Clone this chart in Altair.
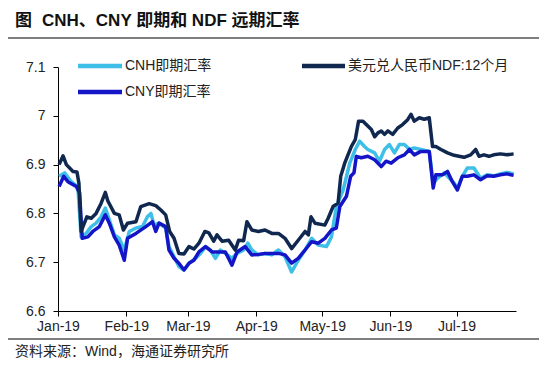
import altair as alt
import pandas as pd

# days since 2019-01-01 and values
cnh_day = [0.5, 3.0, 6.0, 9.0, 10.5, 12.8, 15.1, 17.3, 19.6, 21.5, 23.3, 25.6, 27.8, 30.1, 32.4, 35.4, 38.4, 40.6, 42.2, 43.6,
           45.9, 48.9, 50.4, 52.7, 54.9, 57.2, 59.5, 62.5, 64.7, 67.0, 69.2, 71.5, 73.7, 76.0, 79.0, 81.3, 84.3, 86.2, 88.0, 91.0,
           94.0, 97.1, 100.1, 103.1, 106.1, 109.1, 112.2, 115.2, 118.2, 121.9, 124.2, 126.4, 129.5, 132.5, 135.0, 137.0, 139.2, 140.7, 143.8, 146.0,
           148.3, 150.5, 152.8, 155.0, 157.3, 159.6, 161.8, 164.8, 168.6, 170.4, 172.3, 175.4, 176.9, 179.9, 181.4, 183.6, 185.9, 188.9, 191.9, 194.9,
           197.9, 200.9, 203.9, 206.9]
cnh_val = [6.876, 6.883, 6.865, 6.855, 6.752, 6.759, 6.773, 6.780, 6.793, 6.811, 6.787, 6.756, 6.749, 6.725, 6.763, 6.770, 6.773, 6.793, 6.800, 6.776,
           6.780, 6.770, 6.732, 6.711, 6.691, 6.684, 6.698, 6.708, 6.718, 6.732, 6.725, 6.708, 6.725, 6.718, 6.708, 6.718, 6.725, 6.739, 6.725, 6.715,
           6.718, 6.715, 6.725, 6.711, 6.680, 6.704, 6.725, 6.749, 6.735, 6.732, 6.752, 6.814, 6.848, 6.903, 6.931, 6.948, 6.937, 6.931, 6.924, 6.907,
           6.931, 6.941, 6.924, 6.941, 6.941, 6.931, 6.934, 6.931, 6.927, 6.862, 6.872, 6.883, 6.876, 6.862, 6.852, 6.876, 6.893, 6.893, 6.872, 6.879,
           6.877, 6.881, 6.884, 6.881]

cny_day = [0.5, 2.6, 4.5, 8.3, 9.8, 11.0, 13.6, 15.8, 18.8, 21.5, 23.3, 25.6, 27.8, 30.1, 31.6, 35.4, 39.9, 42.9, 44.4, 45.9,
           48.9, 50.4, 52.7, 54.9, 57.2, 59.5, 61.7, 64.0, 67.0, 70.0, 73.0, 76.0, 79.0, 81.3, 85.0, 88.0, 91.0, 94.0, 97.1, 100.1,
           103.1, 106.1, 109.1, 112.2, 115.2, 118.2, 121.2, 124.2, 126.4, 128.0, 131.0, 132.9, 134.4, 135.5, 137.7, 140.7, 143.8, 146.8, 149.0, 151.3,
           154.3, 157.3, 159.6, 161.8, 164.8, 168.6, 170.4, 171.6, 174.6, 176.9, 179.1, 181.4, 183.6, 185.9, 188.9, 191.9, 194.9, 197.9, 200.9, 203.9,
           206.9]
cny_val = [6.855, 6.876, 6.865, 6.855, 6.842, 6.749, 6.752, 6.763, 6.773, 6.797, 6.780, 6.752, 6.735, 6.704, 6.749, 6.759, 6.773, 6.783, 6.763, 6.780,
           6.773, 6.725, 6.708, 6.698, 6.684, 6.698, 6.704, 6.721, 6.732, 6.721, 6.721, 6.721, 6.694, 6.721, 6.732, 6.715, 6.716, 6.718, 6.718, 6.718,
           6.715, 6.698, 6.708, 6.725, 6.742, 6.739, 6.749, 6.766, 6.770, 6.814, 6.835, 6.876, 6.883, 6.917, 6.914, 6.917, 6.910, 6.896, 6.907, 6.903,
           6.914, 6.920, 6.931, 6.920, 6.927, 6.927, 6.852, 6.879, 6.879, 6.886, 6.865, 6.848, 6.876, 6.876, 6.879, 6.869, 6.877, 6.876, 6.879, 6.881,
           6.878]

ndf_day = [0.5, 2.3, 3.8, 6.8, 8.6, 9.5, 10.5, 13.1, 15.1, 17.3, 19.6, 21.5, 22.6, 25.6, 27.8, 29.7, 31.6, 35.4, 37.6, 41.4,
           44.4, 46.7, 48.9, 50.7, 52.7, 54.9, 57.2, 59.5, 61.7, 64.0, 66.7, 68.5, 70.7, 72.2, 74.5, 77.5, 80.5, 82.0, 84.3, 85.8,
           88.0, 91.0, 94.0, 97.1, 100.1, 103.1, 106.1, 109.1, 112.2, 113.7, 114.9, 116.7, 121.2, 122.7, 124.9, 127.2, 128.4, 130.2, 133.2, 135.0,
           136.5, 138.5, 140.7, 142.3, 143.8, 145.3, 146.8, 148.3, 149.8, 152.0, 154.3, 156.5, 158.8, 160.3, 161.8, 164.1, 166.3, 168.6, 170.1, 171.6,
           173.9, 176.9, 179.9, 182.1, 184.4, 187.4, 189.7, 191.2, 193.4, 195.7, 197.9, 200.9, 203.9, 206.9]
ndf_val = [6.900, 6.918, 6.900, 6.886, 6.885, 6.862, 6.763, 6.793, 6.790, 6.800, 6.821, 6.843, 6.826, 6.800, 6.797, 6.766, 6.780, 6.783, 6.814, 6.820,
           6.816, 6.807, 6.797, 6.763, 6.749, 6.718, 6.717, 6.732, 6.727, 6.739, 6.763, 6.760, 6.743, 6.756, 6.743, 6.745, 6.725, 6.745, 6.744, 6.783,
           6.766, 6.763, 6.766, 6.759, 6.759, 6.749, 6.728, 6.745, 6.763, 6.756, 6.793, 6.780, 6.776, 6.790, 6.814, 6.821, 6.876, 6.903, 6.937, 6.951,
           6.989, 6.989, 6.979, 6.972, 6.957, 6.965, 6.969, 6.962, 6.969, 6.962, 6.975, 6.982, 6.992, 7.003, 6.989, 6.996, 6.993, 6.996, 6.937, 6.937,
           6.931, 6.924, 6.919, 6.917, 6.915, 6.920, 6.931, 6.917, 6.920, 6.917, 6.920, 6.922, 6.920, 6.922]

series_names = ["CNH即期汇率", "CNY即期汇率", "美元兑人民币NDF:12个月"]
series_colors = ["#3DBFE8", "#1515C8", "#10284F"]
y_ticks = [6.6, 6.7, 6.8, 6.9, 7.0, 7.1]
title_text = "CNH、CNY 即期和 NDF 远期汇率"
source_text = "资料来源：Wind，海通证券研究所"

start = pd.Timestamp("2019-01-01")


def frame(days, vals):
    return pd.DataFrame({"date": [start + pd.Timedelta(days=d) for d in days], "value": vals})


W, H = 458, 244
FONT = "Liberation Sans, Arial, Noto Sans CJK SC"

x_scale = alt.Scale(domain=[alt.DateTime(year=2019, month=1, date=1),
                            alt.DateTime(year=2019, month=7, date=28)])
y_scale = alt.Scale(domain=[6.6, 7.1], nice=False, zero=False)

x_axis = alt.Axis(values=[alt.DateTime(year=2019, month=m, date=1) for m in range(1, 8)],
                  format="%b-%y", title=None, grid=False, tickSize=5, labelPadding=3,
                  labelFontSize=14, labelFont=FONT, labelColor="#222", domainColor="#000",
                  tickColor="#000", labelAngle=0, labelFlush=False, labelOverlap=False,
                  labelAlign="center")
y_axis = alt.Axis(values=y_ticks, format="~g", title=None, grid=False, tickSize=5, labelPadding=8,
                  labelFontSize=14, labelFont=FONT, labelColor="#222", domainColor="#000",
                  tickColor="#000", labelFlush=False, labelOverlap=False)


def line(days, vals, color):
    return alt.Chart(frame(days, vals)).mark_line(color=color, strokeWidth=3.5, strokeJoin="round").encode(
        x=alt.X("date:T", scale=x_scale, axis=x_axis),
        y=alt.Y("value:Q", scale=y_scale, axis=y_axis),
    )


one = pd.DataFrame({"k": [0]})


def hrule(x1, x2, y, color, width):
    return alt.Chart(one).mark_rule(color=color, strokeWidth=width).encode(
        x=alt.value(x1), x2=alt.value(x2), y=alt.value(y))


def label(x, y, text, size, weight="normal", color="#222"):
    return alt.Chart(one).mark_text(align="left", baseline="middle", fontSize=size, font=FONT,
                                    fontWeight=weight, color=color).encode(
        x=alt.value(x), y=alt.value(y), text=alt.value(text))


layers = [
    line(cnh_day, cnh_val, series_colors[0]),
    line(cny_day, cny_val, series_colors[1]),
    line(ndf_day, ndf_val, series_colors[2]),
    # legend
    hrule(20, 64, -1, series_colors[0], 4.5),
    label(67, -1, series_names[0], 14),
    hrule(20, 64, 25, series_colors[1], 4.5),
    label(67, 25, series_names[1], 14),
    hrule(244, 287, -1, series_colors[2], 4.5),
    label(290, -1, series_names[2], 14),
    # header / footer
    hrule(-50, 481, -64, "#000", 1.2),
    hrule(-50, 481, -29, "#000", 1.2),
    label(-43, -46, "图", 17, "bold", "#111"),
    label(-16, -46, title_text, 17, "bold", "#111"),
    hrule(-50, 481, 272, "#000", 1.2),
    label(-43, 285, source_text, 14),
]

chart = alt.layer(*layers).properties(
    width=W, height=H,
    autosize=alt.AutoSizeParams(type="none"),
    padding={"left": 50, "top": 59, "right": 23, "bottom": 47},
    background="white",
).configure_view(stroke=None)

chart.save("out.html", embed_options={"renderer": "svg", "actions": False})
